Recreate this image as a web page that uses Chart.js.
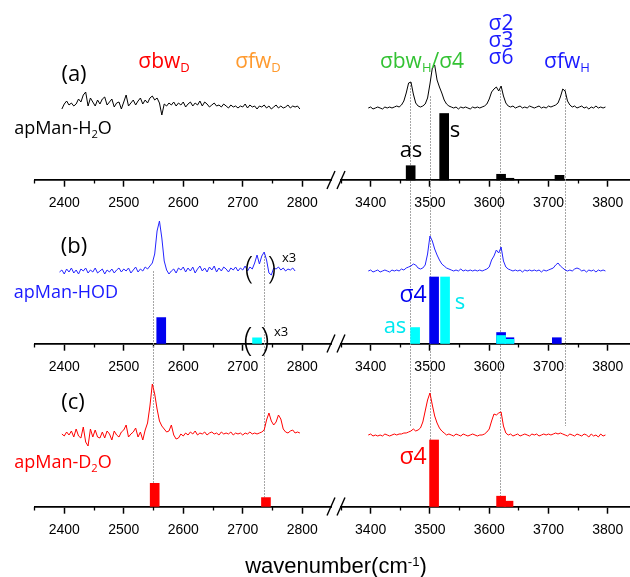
<!DOCTYPE html>
<html>
<head>
<meta charset="utf-8">
<script src="https://cdn.jsdelivr.net/npm/chart.js@4"></script>
<style>
  html, body { margin: 0; padding: 0; background: #fff; }
  #wrap { position: relative; width: 630px; height: 577px; overflow: hidden; }
  canvas { position: absolute; top: 0; }
  .lbl { position: absolute; transform: translate(-50%, -50%); white-space: nowrap;
         font-family: "Open Sans", "Noto Sans", sans-serif; line-height: 1; color: #000; }
  .lbl sub { font-size: 0.62em; vertical-align: -0.32em; line-height: 0; }
  .br { font-weight: 300; }
  .ttl { font-family: "Liberation Sans", Arial, sans-serif; }
  .ttl sup { font-size: 0.6em; vertical-align: 0.55em; line-height: 0; }
</style>
</head>
<body>
<div id="wrap">
  <canvas id="lowCanvas" width="334" height="577" style="left:0px"></canvas>
  <canvas id="highCanvas" width="310" height="577" style="left:320px"></canvas>

  <!-- panel (a) -->
  <div class="lbl" style="left:74px;top:72px;font-size:22px">(a)</div>
  <div class="lbl" style="left:63px;top:127px;font-size:18px">apMan-H<sub>2</sub>O</div>
  <div class="lbl" style="left:164px;top:60px;font-size:21px;color:#ff0000">σbw<sub>D</sub></div>
  <div class="lbl" style="left:258px;top:60px;font-size:21px;color:#ff9a2e">σfw<sub>D</sub></div>
  <div class="lbl" style="left:422px;top:60px;font-size:21px;color:#33c233">σbw<sub>H</sub>/σ4</div>
  <div class="lbl" style="left:501px;top:22px;font-size:21px;color:#1a1aff">σ2</div>
  <div class="lbl" style="left:501px;top:39px;font-size:21px;color:#1a1aff">σ3</div>
  <div class="lbl" style="left:501px;top:56px;font-size:21px;color:#1a1aff">σ6</div>
  <div class="lbl" style="left:567px;top:60px;font-size:21px;color:#1a1aff">σfw<sub>H</sub></div>
  <div class="lbl" style="left:411px;top:148px;font-size:22px">as</div>
  <div class="lbl" style="left:455px;top:128px;font-size:22px">s</div>

  <!-- panel (b) -->
  <div class="lbl" style="left:74px;top:244px;font-size:22px">(b)</div>
  <div class="lbl" style="left:66px;top:291px;font-size:18px;color:#1a1aff">apMan-HOD</div>
  <div class="lbl br" style="left:249px;top:266px;font-size:31px">(</div>
  <div class="lbl br" style="left:272px;top:266px;font-size:31px">)</div>
  <div class="lbl" style="left:289px;top:257px;font-size:13px">x3</div>
  <div class="lbl br" style="left:248px;top:338px;font-size:33px">(</div>
  <div class="lbl br" style="left:265px;top:338px;font-size:33px">)</div>
  <div class="lbl" style="left:281px;top:331px;font-size:13px">x3</div>
  <div class="lbl" style="left:413px;top:293px;font-size:23px;color:#0000ee">σ4</div>
  <div class="lbl" style="left:460px;top:300px;font-size:22px;color:#00e8f0">s</div>
  <div class="lbl" style="left:395px;top:324px;font-size:22px;color:#00e8f0">as</div>

  <!-- panel (c) -->
  <div class="lbl" style="left:73px;top:400px;font-size:22px">(c)</div>
  <div class="lbl" style="left:63px;top:461px;font-size:18px;color:#ff0000">apMan-D<sub>2</sub>O</div>
  <div class="lbl" style="left:413px;top:455px;font-size:23px;color:#ff0000">σ4</div>

  <div class="lbl ttl" style="left:336px;top:566px;font-size:22px">wavenumber(cm<sup>-1</sup>)</div>
</div>

<script>
// ---------------------------------------------------------------------------
// Raman traces, sampled every SPEC_STEP cm-1 from the listed start value
// (intensity in arbitrary units; baseline ~ 0)
// ---------------------------------------------------------------------------
const SPEC_STEP = 4;

const lowStartA = 2396;
const specLowA = [
  -1, 4, 7, 3, 5, 2, 4, 9, 6, 13,
  16, 2, 10, 6, 2, 8, 4, 9, 11, 3,
  6, 9, 1, 5, 6, -1, 6, 13, 2, 5,
  8, 3, 7, 10, 4, 8, 5, 10, 12, 8,
  10, 5, -7, 4, 2, 5, 3, 6, 2, 5,
  3, 6, 1, 4, 6, 2, 5, 3, 7, 2,
  6, 4, 1, 3, 5, 2, 3, 1, 4, 2,
  0, 3, 1, 2, 0, 2, 1, 4, 0, 3,
  1, 2, -1, 2, 1, 3, 0, 2, -1, 1,
  3, 0, 2, 0, 1, 3, 0, 2, 1, 2,
  -1
];

const highStartA = 3396;
const specHighA = [
  0, 1, -1, 0, 1, 0, -1, 1, 0, 1,
  0, 1, 2, 1, 3, 7, 15, 25, 26, 14,
  5, 2, 1, 2, 4, 10, 24, 40, 43, 28,
  21, 15, 8, 4, 2, 1, 0, 1, -1, 1,
  0, 1, 0, -1, 1, 0, 1, 0, 1, 2,
  4, 9, 16, 19, 21, 17, 22, 12, 5, 2,
  1, 2, 0, 1, 2, 0, 1, 0, 2, 1,
  0, 1, 2, 0, 1, 0, 2, 1, 2, 3,
  5, 11, 19, 17, 7, 3, 1, 2, 0, 1,
  2, 0, 1, -1, 1, 0, 2, 0, 1, 0,
  1
];

const lowStartB = 2392;
const specLowB = [
  -1, 1, -3, 2, -1, 3, -2, 1, -3, 2,
  0, 3, -2, 1, -1, 3, -2, 0, 2, -3,
  1, -1, 2, -2, 1, 3, -1, 2, 0, 3,
  -2, 1, 4, -1, 2, 0, 4, 2, 5, 8,
  17, 40, 50, 33, 10, 1, -3, 0, 2, -2,
  3, 1, 4, -1, 3, 0, 4, -2, 2, 5,
  0, 3, -1, 4, 1, 5, -1, 3, 0, 4,
  2, -1, 3, 1, 4, 0, 3, 1, 5, 0,
  4, 2, 8, 16, 7, 15, 19, 11, -2, -4,
  3, 2, 4, 1, 3, 0, 2, 1, 3, 0
];

const highStartB = 3396;
const specHighB = [
  0, 1, -1, 0, 1, -1, 0, 1, 0, -1,
  1, 0, 1, 0, 2, 1, 3, 4, 5, 7,
  6, 3, 2, 3, 6, 17, 35, 30, 22, 16,
  11, 7, 5, 3, 2, 1, 0, 1, 0, 2,
  0, 1, 0, 1, 0, 1, 0, 1, 0, 1,
  2, 4, 11, 15, 21, 18, 24, 10, 4, 2,
  1, 0, 1, 0, 1, -1, 1, 0, 1, 0,
  1, 0, 1, -1, 1, 0, 1, 2, 3, 6,
  8, 5, 3, 1, 0, 1, 0, 2, 3, 2,
  0, 1, -1, 1, 0, 1, -1, 1, 0, 1,
  0
];

const lowStartC = 2396;
const specLowC = [
  0, -2, 2, -1, 3, -3, 5, -2, -4, 7,
  -8, -12, 5, -3, 4, -3, -4, 2, -4, 3,
  0, -6, 3, -1, -3, 2, 4, 9, -3, 0,
  2, 6, -3, 2, -6, 4, 11, 28, 50, 40,
  25, 13, 8, 5, 2, 3, 9, -1, -5, -4,
  0, -2, 1, -1, 2, 0, 3, -1, 1, 0,
  2, -1, 1, 2, 0, 1, -1, 2, 0, 1,
  0, 2, -1, 1, 0, 1, -1, 1, 0, 2,
  0, 1, 0, 1, 2, 4, 14, 21, 13, 9,
  12, 19, 15, 5, 2, 1, 3, 4, 1, 2,
  1
];

const highStartC = 3396;
const specHighC = [
  -1, 0, -2, -1, -2, -1, -2, 0, -1, -2,
  -1, 0, -1, 0, 0, 1, 1, 2, 3, 5,
  3, 4, 6, 12, 23, 34, 41, 29, 18, 11,
  6, 3, 1, -1, 0, -1, -2, 0, -1, -2,
  0, -1, -2, -1, 0, -1, -2, -1, -1, 0,
  2, 5, 13, 20, 19, 21, 22, 8, 1, -1,
  0, -2, -1, 0, -2, -1, 0, -1, -2, 0,
  -1, 0, -2, -1, 0, -1, 0, -1, 0, 1,
  0, 1, 0, -1, -2, 0, -1, -2, 0, -1,
  -2, 0, -1, -3, 0, -2, -1, -3, 0, -2,
  -1
];

// ---------------------------------------------------------------------------
// Calculated stick spectra (cm-1, relative intensity)
// ---------------------------------------------------------------------------
const stickPosA = [3467.5, 3524, 3620, 3634, 3718.5];
const stickValA = [0.215, 1.0, 0.086, 0.026, 0.07];

const stickPosB_blue = [2563, 3507, 3620, 3634, 3714];
const stickValB_blue = [0.39, 1.0, 0.165, 0.087, 0.087];
const stickPosB_cyan = [2724, 3475, 3525.5, 3620, 3634];
const stickValB_cyan = [0.087, 0.24, 1.0, 0.12, 0.063];

const stickPosC = [2552, 2739, 3507, 3620, 3632.5];
const stickValC = [0.35, 0.135, 1.0, 0.155, 0.08];

// Axis ticks of the two wavenumber windows
const lowMajorTicks  = [2400, 2500, 2600, 2700, 2800];
const lowMinorTicks  = [2350, 2450, 2550, 2650, 2750];
const highMajorTicks = [3400, 3500, 3600, 3700, 3800];
const highMinorTicks = [3350, 3450, 3550, 3650, 3750];

// Dotted guide lines linking the assigned bands across the panels
const guideLines = [
  { at: 2549, from: ['sb', 0],  to: ['bc', 0.35] },
  { at: 2736, from: ['sb', 18], to: ['bc', 0.135] },
  { at: 3467, from: ['sa', 26], to: ['sc', 7] },
  { at: 3500, from: ['sa', 12], to: ['bc', 0] },
  { at: 3618, from: ['sa', 18], to: ['bc', 0.155] },
  { at: 3727, from: ['sa', 19], to: ['sc', 8] }
];

// ---------------------------------------------------------------------------
// Layout helpers
// ---------------------------------------------------------------------------
const H = 577;
const STICK_PX = 66.5;                    // pixel height of a unit stick
const panels = [
  { key: 'a', specZero: 108, barZero: 180 },
  { key: 'b', specZero: 271, barZero: 343.5 },
  { key: 'c', specZero: 434, barZero: 506.5 }
];

function yRange(zeroPx, pxPerUnit) {
  return { min: (zeroPx - H) / pxPerUnit, max: zeroPx / pxPerUnit };
}
function trace(start, vals) {
  return vals.map((v, i) => ({ x: start + i * SPEC_STEP, y: v }));
}
function sticks(pos, vals) {
  return pos.map((p, i) => ({ x: p, y: vals[i] }));
}
function within(data, lo, hi) {
  return data.filter(d => d.x >= lo && d.x <= hi);
}
function flatten(scale) {
  scale.height = 0;
  scale.paddingLeft = 0; scale.paddingRight = 0;
  scale.paddingTop = 0; scale.paddingBottom = 0;
}
function fixedTicks(list) {
  return scale => { scale.ticks = list.map(v => ({ value: v })); };
}

function buildScales(xMin, xMax, majors, minors) {
  const scales = {};
  panels.forEach(p => {
    scales['s' + p.key] = Object.assign({ type: 'linear', axis: 'y', display: false },
                                        yRange(p.specZero, 1));
    scales['b' + p.key] = Object.assign({ type: 'linear', axis: 'y', display: false },
                                        yRange(p.barZero, STICK_PX));
    scales['x' + p.key] = {
      type: 'linear', axis: 'x', position: { ['b' + p.key]: 0 },
      min: xMin, max: xMax, offset: false, afterFit: flatten,
      afterBuildTicks: fixedTicks(majors),
      grid: { display: true, drawOnChartArea: false, drawTicks: true, tickLength: 6,
              tickWidth: 1.5, tickColor: '#000', offset: false },
      border: { display: true, color: '#000', width: 1.7 },
      ticks: { autoSkip: false, maxRotation: 0, padding: 9, color: '#000',
               callback: v => String(v),
               font: { family: 'Liberation Sans, Arial, sans-serif', size: 14 } }
    };
    scales['m' + p.key] = {
      type: 'linear', axis: 'x', position: { ['b' + p.key]: 0 },
      min: xMin, max: xMax, offset: false, afterFit: flatten,
      afterBuildTicks: fixedTicks(minors),
      grid: { display: true, drawOnChartArea: false, drawTicks: true, tickLength: 3.5,
              tickWidth: 1.3, tickColor: '#000', offset: false },
      border: { display: false },
      ticks: { autoSkip: false, display: false }
    };
  });
  return scales;
}

function lineSet(data, key, color) {
  return { type: 'line', data, xAxisID: 'x' + key, yAxisID: 's' + key,
           borderColor: color, borderWidth: 1, pointRadius: 0, tension: 0,
           fill: false, order: 3 };
}
function barSet(data, key, color, order) {
  return { type: 'bar', data, xAxisID: 'x' + key, yAxisID: 'b' + key,
           backgroundColor: color, borderWidth: 0, barThickness: 9,
           grouped: false, order };
}

function guidePlugin(lo, hi) {
  return {
    id: 'guides',
    beforeDatasetsDraw(chart) {
      const ctx = chart.ctx, xs = chart.scales.xa;
      ctx.save();
      ctx.strokeStyle = 'rgba(150,150,150,0.85)';
      ctx.lineWidth = 1;
      ctx.setLineDash([2, 1]);
      guideLines.filter(g => g.at >= lo && g.at <= hi).forEach(g => {
        const x = Math.round(xs.getPixelForValue(g.at)) + 0.5;
        const y1 = chart.scales[g.from[0]].getPixelForValue(g.from[1]);
        const y2 = chart.scales[g.to[0]].getPixelForValue(g.to[1]);
        ctx.beginPath(); ctx.moveTo(x, y1); ctx.lineTo(x, y2); ctx.stroke();
      });
      ctx.restore();
    }
  };
}

// "//" marks where the wavenumber axis is broken
const breakPlugin = {
  id: 'axisBreak',
  afterDraw(chart) {
    const ctx = chart.ctx;
    const x0 = chart.scales.xa.getPixelForValue(chart.scales.xa.min);
    ctx.save();
    ctx.strokeStyle = '#000';
    ctx.lineWidth = 1.4;
    ['ba', 'bb', 'bc'].forEach(id => {
      const y = chart.scales[id].getPixelForValue(0);
      [x0 - 10, x0].forEach(cx => {
        ctx.beginPath(); ctx.moveTo(cx - 4, y + 9); ctx.lineTo(cx + 4, y - 9); ctx.stroke();
      });
    });
    ctx.restore();
  }
};

function makeChart(canvasId, range, majors, minors, padding, traces, extraPlugins) {
  const [lo, hi] = range;
  const datasets = [
    barSet(within(sticks(stickPosB_cyan, stickValB_cyan), lo, hi), 'b', '#00ffff', 0),
    barSet(within(sticks(stickPosB_blue, stickValB_blue), lo, hi), 'b', '#0000f0', 1),
    barSet(within(sticks(stickPosA, stickValA), lo, hi), 'a', '#000000', 1),
    barSet(within(sticks(stickPosC, stickValC), lo, hi), 'c', '#ff0000', 1),
    lineSet(traces.a, 'a', '#000000'),
    lineSet(traces.b, 'b', '#2424ff'),
    lineSet(traces.c, 'c', '#ff0000')
  ];
  return new Chart(document.getElementById(canvasId), {
    type: 'bar',
    data: { datasets },
    options: {
      responsive: false,
      animation: false,
      events: [],
      layout: { padding },
      scales: buildScales(lo, hi, majors, minors),
      plugins: { legend: { display: false }, tooltip: { enabled: false } }
    },
    plugins: [guidePlugin(lo, hi)].concat(extraPlugins)
  });
}

makeChart('lowCanvas', [2350, 2848.3], lowMajorTicks, lowMinorTicks,
  { left: 34.5, right: 3, top: 0, bottom: 0 }, {
    a: trace(lowStartA, specLowA),
    b: trace(lowStartB, specLowB),
    c: trace(lowStartC, specLowC)
  }, []);

makeChart('highCanvas', [3350, 3837.4], highMajorTicks, highMinorTicks,
  { left: 21, right: 0, top: 0, bottom: 0 }, {
    a: trace(highStartA, specHighA),
    b: trace(highStartB, specHighB),
    c: trace(highStartC, specHighC)
  }, [breakPlugin]);
</script>
</body>
</html>
